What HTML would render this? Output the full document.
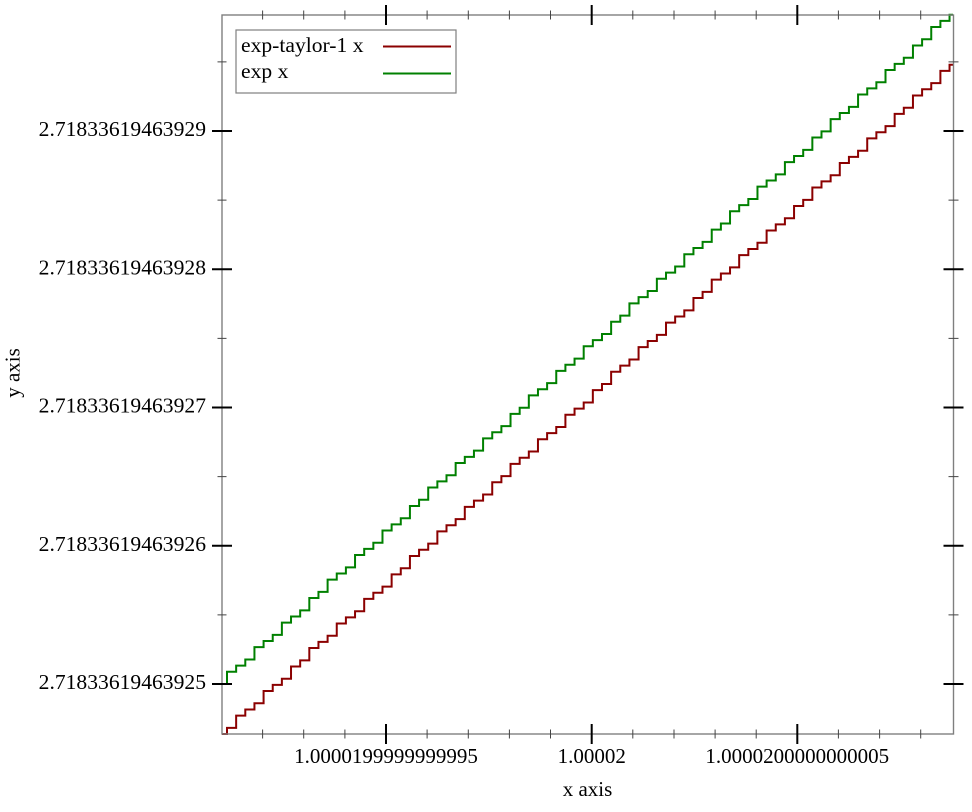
<!DOCTYPE html>
<html>
<head>
<meta charset="utf-8">
<style>
  html, body { margin: 0; padding: 0; background: #ffffff; }
  svg { display: block; }
  text { font-family: "Liberation Serif", "Times New Roman", serif; font-size: 21px; fill: #000; }
  .yl { font-size: 21.6px; }
  .lg { font-size: 21.6px; }
</style>
</head>
<body>
<svg width="972" height="812" viewBox="0 0 972 812" xmlns="http://www.w3.org/2000/svg">
  <rect x="0" y="0" width="972" height="812" fill="#ffffff"/>

  <!-- data series -->
  <g fill="none" stroke-width="2" stroke-linejoin="miter" stroke-linecap="butt">
    <!-- exp x (green) -->
    <path stroke="#008000" d="M222 684H227
      v-12.28h9.146 v-6.14h9.146 v-6.14h9.146 v-12.28h9.146 v-6.14h9.146 v-6.14h9.146 v-12.28h9.146 v-6.14h9.146 v-6.14h9.146 v-12.28h9.146
      v-6.14h9.146 v-12.28h9.146 v-6.14h9.146 v-6.14h9.146 v-12.28h9.146 v-6.14h9.146 v-6.14h9.146 v-12.28h9.146 v-6.14h9.146 v-6.14h9.146
      v-12.28h9.146 v-6.14h9.146 v-12.28h9.146 v-6.14h9.146 v-6.14h9.146 v-12.28h9.146 v-6.14h9.146 v-6.14h9.146 v-12.28h9.146 v-6.14h9.146
      v-6.14h9.146 v-12.28h9.146 v-6.14h9.146 v-12.28h9.146 v-6.14h9.146 v-6.14h9.146 v-12.28h9.146 v-6.14h9.146 v-6.14h9.146 v-12.28h9.146
      v-6.14h9.146 v-6.14h9.146 v-12.28h9.146 v-6.14h9.146 v-12.28h9.146 v-6.14h9.146 v-6.14h9.146 v-12.28h9.146 v-6.14h9.146 v-6.14h9.146
      v-12.28h9.146 v-6.14h9.146 v-6.14h9.146 v-12.28h9.146 v-6.14h9.146 v-12.28h9.146 v-6.14h9.146 v-6.14h9.146 v-12.28h9.146 v-6.14h9.146
      v-6.14h9.146 v-12.28h9.146 v-6.14h9.146 v-6.14h9.146 v-12.28h9.146 v-6.14h9.146 v-12.28h9.146 v-6.14h9.146 v-6.14h9.146 v-12.28h9.146
      v-6.14h9.146 v-6.14h9.146 v-12.28h9.146 v-6.14h9.146 v-6.14h9.146 v-12.28h9.146 v-6.14h9.146 v-12.28h9.146 v-6.14h9.146 v-6.14H953"/>
    <!-- exp-taylor-1 x (dark red) -->
    <path stroke="#8b0000" d="M222 734H227
      v-6.14h9.146 v-12.28h9.146 v-6.14h9.146 v-6.14h9.146 v-12.28h9.146 v-6.14h9.146 v-6.14h9.146 v-12.28h9.146 v-6.14h9.146 v-12.28h9.146
      v-6.14h9.146 v-6.14h9.146 v-12.28h9.146 v-6.14h9.146 v-6.14h9.146 v-12.28h9.146 v-6.14h9.146 v-6.14h9.146 v-12.28h9.146 v-6.14h9.146
      v-12.28h9.146 v-6.14h9.146 v-6.14h9.146 v-12.28h9.146 v-6.14h9.146 v-6.14h9.146 v-12.28h9.146 v-6.14h9.146 v-6.14h9.146 v-12.28h9.146
      v-6.14h9.146 v-12.28h9.146 v-6.14h9.146 v-6.14h9.146 v-12.28h9.146 v-6.14h9.146 v-6.14h9.146 v-12.28h9.146 v-6.14h9.146 v-6.14h9.146
      v-12.28h9.146 v-6.14h9.146 v-12.28h9.146 v-6.14h9.146 v-6.14h9.146 v-12.28h9.146 v-6.14h9.146 v-6.14h9.146 v-12.28h9.146 v-6.14h9.146
      v-6.14h9.146 v-12.28h9.146 v-6.14h9.146 v-12.28h9.146 v-6.14h9.146 v-6.14h9.146 v-12.28h9.146 v-6.14h9.146 v-6.14h9.146 v-12.28h9.146
      v-6.14h9.146 v-6.14h9.146 v-12.28h9.146 v-6.14h9.146 v-12.28h9.146 v-6.14h9.146 v-6.14h9.146 v-12.28h9.146 v-6.14h9.146 v-6.14h9.146
      v-12.28h9.146 v-6.14h9.146 v-6.14h9.146 v-12.28h9.146 v-6.14h9.146 v-12.28h9.146 v-6.14h9.146 v-6.14h9.146 v-12.28h9.146 v-6.14H953"/>
  </g>

  <!-- frame -->
  <rect x="222" y="15" width="731.5" height="719" fill="none" stroke="#7f7f7f" stroke-width="1.4"/>

  <!-- minor ticks -->
  <g stroke="#444" stroke-width="1">
    <path d="M262.6 729.5V738.5 M303.7 729.5V738.5 M344.9 729.5V738.5 M427.1 729.5V738.5 M468.3 729.5V738.5 M509.4 729.5V738.5 M550.5 729.5V738.5 M632.8 729.5V738.5 M674 729.5V738.5 M715.1 729.5V738.5 M756.2 729.5V738.5 M838.4 729.5V738.5 M879.6 729.5V738.5 M920.7 729.5V738.5"/>
    <path d="M262.6 10.5V19.5 M303.7 10.5V19.5 M344.9 10.5V19.5 M427.1 10.5V19.5 M468.3 10.5V19.5 M509.4 10.5V19.5 M550.5 10.5V19.5 M632.8 10.5V19.5 M674 10.5V19.5 M715.1 10.5V19.5 M756.2 10.5V19.5 M838.4 10.5V19.5 M879.6 10.5V19.5 M920.7 10.5V19.5"/>
    <path d="M217.5 61.9H226.5 M217.5 200.1H226.5 M217.5 338.4H226.5 M217.5 476.6H226.5 M217.5 614.9H226.5"/>
    <path d="M948.5 61.9H958.5 M948.5 200.1H958.5 M948.5 338.4H958.5 M948.5 476.6H958.5 M948.5 614.9H958.5"/>
  </g>

  <!-- major ticks -->
  <g stroke="#000" stroke-width="2">
    <path d="M386 724V744 M591.7 724V744 M797.3 724V744"/>
    <path d="M386 5V25 M591.7 5V25 M797.3 5V25"/>
    <path d="M212 131H232 M212 269.25H232 M212 407.5H232 M212 545.75H232 M212 684H232"/>
    <path d="M943.5 131H963.5 M943.5 269.25H963.5 M943.5 407.5H963.5 M943.5 545.75H963.5 M943.5 684H963.5"/>
  </g>

  <!-- y tick labels -->
  <g text-anchor="end" class="yl">
    <text class="yl" x="206" y="136">2.71833619463929</text>
    <text class="yl" x="206" y="274.25">2.71833619463928</text>
    <text class="yl" x="206" y="412.5">2.71833619463927</text>
    <text class="yl" x="206" y="550.75">2.71833619463926</text>
    <text class="yl" x="206" y="689">2.71833619463925</text>
  </g>

  <!-- x tick labels -->
  <g text-anchor="middle">
    <text x="386" y="763">1.0000199999999995</text>
    <text x="591.7" y="763">1.00002</text>
    <text x="797.3" y="763">1.0000200000000005</text>
  </g>

  <!-- axis labels -->
  <text x="587.5" y="796" text-anchor="middle">x axis</text>
  <text transform="translate(19.5,373) rotate(-90)" text-anchor="middle">y axis</text>

  <!-- legend -->
  <rect x="236" y="30" width="220" height="63" fill="#ffffff" stroke="#7f7f7f" stroke-width="1.2"/>
  <text class="lg" x="241" y="52">exp-taylor-1 x</text>
  <text class="lg" x="241" y="78">exp x</text>
  <line x1="383" y1="46.5" x2="451" y2="46.5" stroke="#8b0000" stroke-width="2"/>
  <line x1="383" y1="73.5" x2="451" y2="73.5" stroke="#008000" stroke-width="2"/>
</svg>
</body>
</html>
